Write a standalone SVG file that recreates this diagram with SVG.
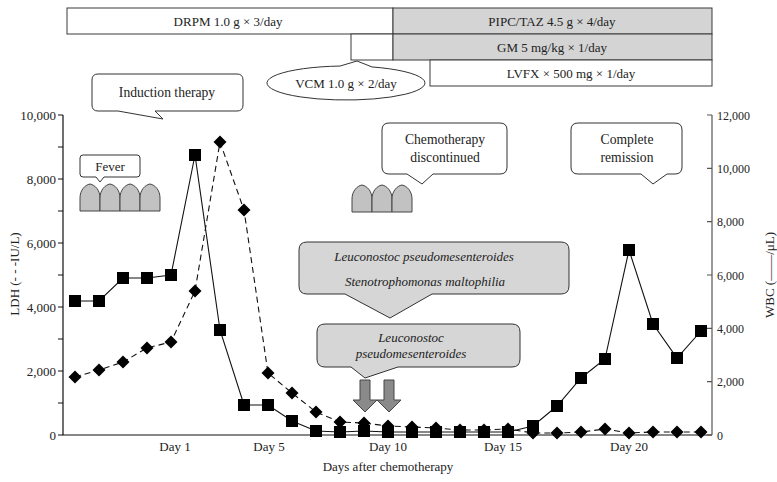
<svg xmlns="http://www.w3.org/2000/svg" xmlns:xlink="http://www.w3.org/1999/xlink" width="777" height="482" viewBox="0 0 777 482">
<style>
text{font-family:"Liberation Serif","Times New Roman",serif;fill:#222;}
.t13{font-size:13px;}
.t135{font-size:13.6px;}
.t12{font-size:12px;}
.mid{text-anchor:middle;}
.end{text-anchor:end;}
.it{font-style:italic;}
.bar{stroke:#3a3a3a;stroke-width:1;}
.white{fill:#fff;}
.gray{fill:#d4d4d4;}
.call{fill:#fff;stroke:#333;stroke-width:1;}
.gcall{fill:#d6d6d6;stroke:#333;stroke-width:1;}
.arch{fill:#c2c2c2;stroke:#444;stroke-width:1;}
.axis{stroke:#111;stroke-width:1.2;fill:none;}
.raxis{stroke:#555;stroke-width:1.2;fill:none;}
.solid{stroke:#111;stroke-width:1.1;fill:none;}
.dash{stroke:#111;stroke-width:1.1;fill:none;stroke-dasharray:6 4;}
.garrow{fill:#8a8a8a;stroke:#444;stroke-width:1;}
</style>
<defs>
<rect id="sq" x="-6" y="-6" width="12" height="12" fill="#000"/>
<path id="dm" d="M0 -6.5 L6.5 0 L0 6.5 L-6.5 0 Z" fill="#000"/>
<path id="ar" d="M-10 27 V14 C-10 6 -5 1 0 0 C5 1 10 6 10 14 V27 Z"/>
</defs>

<g id="drug-bars">
<g id="drpm"><rect class="bar white" x="67" y="8" width="326" height="26"/><text class="t13 mid" x="228" y="26">DRPM 1.0 g × 3/day</text></g>
<g id="pipc"><rect class="bar gray" x="393" y="8" width="319" height="26"/><text class="t13 mid" x="552" y="26">PIPC/TAZ 4.5 g × 4/day</text></g>
<g id="vcm-box"><rect class="bar white" x="351" y="34" width="42" height="26"/></g>
<g id="gm"><rect class="bar gray" x="393" y="34" width="319" height="26"/><text class="t13 mid" x="552" y="52">GM 5 mg/kg × 1/day</text></g>
<g id="lvfx"><rect class="bar white" x="430" y="60" width="282" height="26"/><text class="t13 mid" x="571" y="78">LVFX × 500 mg × 1/day</text></g>
<g id="vcm"><path class="call" d="M 372 66.95 A 79 17 0 1 1 340 66.05 L 357 61 Z"/><text class="t13 mid" x="346" y="88">VCM 1.0 g × 2/day</text></g>
</g>

<g id="induction"><path class="call" d="M98 74 H237 Q243 74 243 80 V105 Q243 111 237 111 H155 L163 119 L118 111 H98 Q92 111 92 105 V80 Q92 74 98 74 Z"/><text class="t135 mid" x="167" y="97">Induction therapy</text></g>

<g id="fever"><path class="call" d="M83 155 H137 Q140 155 140 158 V174 Q140 177 137 177 H104 L100 182 L96 177 H83 Q80 177 80 174 V158 Q80 155 83 155 Z"/><text class="t13 mid" x="110" y="171">Fever</text>
<use href="#ar" class="arch" x="90" y="184"/><use href="#ar" class="arch" x="110" y="184"/><use href="#ar" class="arch" x="130" y="184"/><use href="#ar" class="arch" x="150" y="184"/>
</g>

<g id="fever2"><use href="#ar" class="arch" x="362" y="185"/><use href="#ar" class="arch" x="382" y="185"/><use href="#ar" class="arch" x="402" y="185"/></g>

<g id="chemo-disc"><path class="call" d="M389 123 H500 Q507 123 507 130 V167 Q507 174 500 174 H433 L422 184 L407 174 H389 Q382 174 382 167 V130 Q382 123 389 123 Z"/><text class="t135 mid" x="445" y="144">Chemotherapy</text><text class="t135 mid" x="445" y="162">discontinued</text></g>

<g id="remission"><path class="call" d="M578 123 H675 Q682 123 682 130 V167 Q682 174 675 174 H667 L653 184 L641 174 H578 Q571 174 571 167 V130 Q571 123 578 123 Z"/><text class="t135 mid" x="627" y="144">Complete</text><text class="t135 mid" x="627" y="162">remission</text></g>

<g id="bact1"><path class="gcall" d="M307 242 H561 Q569 242 569 250 V286 Q569 294 561 294 H432 L390 318 L345 294 H307 Q299 294 299 286 V250 Q299 242 307 242 Z"/><text class="t13 mid it" x="424" y="261">Leuconostoc pseudomesenteroides</text><text class="t13 mid it" x="425" y="286">Stenotrophomonas maltophilia</text></g>

<g id="bact2"><path class="gcall" d="M325 324 H512 Q520 324 520 332 V359 Q520 367 512 367 H398 L365 378 L351 367 H325 Q317 367 317 359 V332 Q317 324 325 324 Z"/><text class="t13 mid it" x="411" y="342">Leuconostoc</text><text class="t13 mid it" x="411" y="358">pseudomesenteroides</text></g>

<g id="arrows"><path class="garrow" d="M360 380 H370 V400 H377 L365 412 L353 400 H360 Z"/><path class="garrow" d="M384 380 H394 V400 H401 L389 412 L377 400 H384 Z"/></g>

<g id="axes">
<path class="axis" d="M63 115 V435 H712"/>
<path class="raxis" d="M712 115 V435"/>
<path class="axis" d="M58 115 H63 M58 147 H63 M58 179 H63 M58 211 H63 M58 243 H63 M58 275 H63 M58 307 H63 M58 339 H63 M58 371 H63 M58 403 H63 M58 435 H63"/>
<path class="raxis" d="M707 115 H712 M707 168.3 H712 M707 221.7 H712 M707 275 H712 M707 328.3 H712 M707 381.7 H712 M707 435 H712"/>
<text class="t13 end" x="56" y="120">10,000</text><text class="t13 end" x="56" y="184">8,000</text><text class="t13 end" x="56" y="248">6,000</text><text class="t13 end" x="56" y="312">4,000</text><text class="t13 end" x="56" y="376">2,000</text><text class="t13 end" x="56" y="440">0</text>
<text class="t12" x="717" y="120">12,000</text><text class="t12" x="717" y="173">10,000</text><text class="t12" x="717" y="226">8,000</text><text class="t12" x="717" y="280">6,000</text><text class="t12" x="717" y="333">4,000</text><text class="t12" x="717" y="386">2,000</text><text class="t12" x="717" y="440">0</text>
<text class="t13 mid" transform="translate(19,274) rotate(-90)">LDH (- - -IU/L)</text>
<text class="t13 mid" transform="translate(774,275) rotate(-90)">WBC (——/μL)</text>
<text class="t13 mid" x="175" y="451">Day 1</text><text class="t13 mid" x="269" y="451">Day 5</text><text class="t13 mid" x="388" y="451">Day 10</text><text class="t13 mid" x="503" y="451">Day 15</text><text class="t13 mid" x="629" y="451">Day 20</text>
<text class="t13 mid" x="388" y="471">Days after chemotherapy</text>
</g>

<g id="connectors">
<polyline class="dash" points="75,377 99,370 123,362 147,348 171,342 195,291 220,142 244,210 268,373 292,393 316,412 340,422 364,423 388,426 412,427 436,428 460,430 484,430 508,429 533,433 557,433 581,432 605,429 629,433 653,432 677,432 701,432"/>
<polyline class="solid" points="75,301 99,301 123,278 147,278 171,275 195,155 220,330 244,405 268,405 292,421 316,431 340,432 364,431 388,432 412,432 436,432 460,432 484,432 508,432 533,426 557,406 581,378 605,359 629,250 653,324 677,358 701,331"/>
</g>

<g id="ldh-points">
<use href="#dm" x="75" y="377"/><use href="#dm" x="99" y="370"/><use href="#dm" x="123" y="362"/><use href="#dm" x="147" y="348"/><use href="#dm" x="171" y="342"/><use href="#dm" x="195" y="291"/><use href="#dm" x="220" y="142"/><use href="#dm" x="244" y="210"/><use href="#dm" x="268" y="373"/><use href="#dm" x="292" y="393"/><use href="#dm" x="316" y="412"/><use href="#dm" x="340" y="422"/><use href="#dm" x="364" y="423"/><use href="#dm" x="388" y="426"/><use href="#dm" x="412" y="427"/><use href="#dm" x="436" y="428"/><use href="#dm" x="460" y="430"/><use href="#dm" x="484" y="430"/><use href="#dm" x="508" y="429"/><use href="#dm" x="533" y="433"/><use href="#dm" x="557" y="433"/><use href="#dm" x="581" y="432"/><use href="#dm" x="605" y="429"/><use href="#dm" x="629" y="433"/><use href="#dm" x="653" y="432"/><use href="#dm" x="677" y="432"/><use href="#dm" x="701" y="432"/>
</g>
<g id="wbc-points">
<use href="#sq" x="75" y="301"/><use href="#sq" x="99" y="301"/><use href="#sq" x="123" y="278"/><use href="#sq" x="147" y="278"/><use href="#sq" x="171" y="275"/><use href="#sq" x="195" y="155"/><use href="#sq" x="220" y="330"/><use href="#sq" x="244" y="405"/><use href="#sq" x="268" y="405"/><use href="#sq" x="292" y="421"/><use href="#sq" x="316" y="431"/><use href="#sq" x="340" y="432"/><use href="#sq" x="364" y="431"/><use href="#sq" x="388" y="432"/><use href="#sq" x="412" y="432"/><use href="#sq" x="436" y="432"/><use href="#sq" x="460" y="432"/><use href="#sq" x="484" y="432"/><use href="#sq" x="508" y="432"/><use href="#sq" x="533" y="426"/><use href="#sq" x="557" y="406"/><use href="#sq" x="581" y="378"/><use href="#sq" x="605" y="359"/><use href="#sq" x="629" y="250"/><use href="#sq" x="653" y="324"/><use href="#sq" x="677" y="358"/><use href="#sq" x="701" y="331"/>
</g>
</svg>
